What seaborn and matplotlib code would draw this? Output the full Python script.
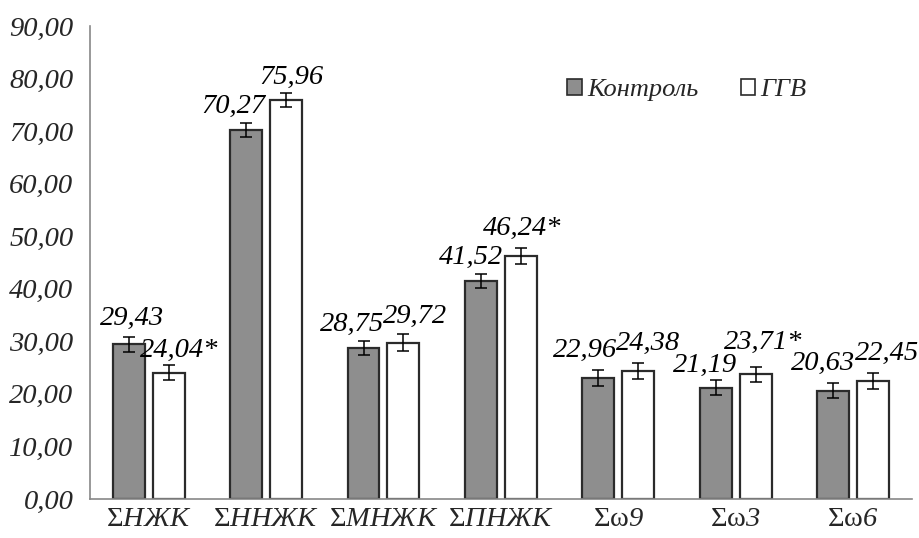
import matplotlib
matplotlib.use("Agg")
import matplotlib.pyplot as plt
from matplotlib.patches import Patch
import seaborn as sns
import pandas as pd

# Fatty-acid group sums, % of total
categories = [r"$\mathrm{Σ}$НЖК", r"$\mathrm{Σ}$ННЖК", r"$\mathrm{Σ}$МНЖК",
              r"$\mathrm{Σ}$ПНЖК", r"$\mathrm{Σω}$9", r"$\mathrm{Σω}$3",
              r"$\mathrm{Σω}$6"]
groups = ["Контроль", "ГГВ"]
control = [29.43, 70.27, 28.75, 41.52, 22.96, 21.19, 20.63]
ggv = [24.04, 75.96, 29.72, 46.24, 24.38, 23.71, 22.45]
control_err = [1.4, 1.3, 1.4, 1.3, 1.5, 1.4, 1.4]
ggv_err = [1.4, 1.4, 1.6, 1.5, 1.5, 1.5, 1.5]
ggv_signif = ["*", "", "", "*", "", "*", ""]
ytick_values = [0, 10, 20, 30, 40, 50, 60, 70, 80, 90]
ytick_labels = ["0,00", "10,00", "20,00", "30,00", "40,00", "50,00",
                "60,00", "70,00", "80,00", "90,00"]

# label offsets (pixels) from the top centre of each bar
control_offsets = [(3, -26), (-13, -23), (-11, -24), (-10, -23), (-13, -28), (-11, -22), (-10, -27)]
ggv_offsets = [(10, -22), (5, -22), (12, -26), (1, -28), (10, -27), (8, -32), (14, -28)]

df = pd.DataFrame({
    "cat": categories * 2,
    "group": [groups[0]] * len(categories) + [groups[1]] * len(categories),
    "value": control + ggv,
})

sns.set_style("white")
plt.rcParams["font.family"] = ["Liberation Serif", "DejaVu Serif"]
plt.rcParams["mathtext.fontset"] = "custom"
plt.rcParams["mathtext.rm"] = "Liberation Serif:style=normal"
plt.rcParams["mathtext.it"] = "Liberation Serif:style=italic"

fig = plt.figure(figsize=(9.19, 5.38), dpi=100)
ax = fig.add_axes([0.098, 0.0725, 0.894, 0.879])

palette = {"Контроль": "#8e8e8e", "ГГВ": "#ffffff"}
sns.barplot(data=df, x="cat", y="value", hue="group", hue_order=groups,
            order=categories, palette=palette, edgecolor="#2b2b2b",
            linewidth=1.6, width=0.68, gap=0.2, errorbar=None,
            legend=False, ax=ax)

bar_containers = list(ax.containers)[:2]
errs = [control_err, ggv_err]
offs = [control_offsets, ggv_offsets]
vals = [control, ggv]
for k, cont in enumerate(bar_containers):
    for i, bar in enumerate(cont.patches):
        x = bar.get_x() + bar.get_width() / 2
        h = vals[k][i]
        ax.errorbar(x, h, yerr=errs[k][i], fmt="none", ecolor="black",
                    elinewidth=1.1, capsize=4, capthick=1.1, zorder=5)
        txt = f"{h:.2f}".replace(".", ",")
        if k == 1:
            txt += ggv_signif[i]
        dx, dy = offs[k][i]
        ax.annotate(txt, (x, h), xytext=(dx, -dy), textcoords="offset pixels",
                    ha="center", va="center", fontsize=20.5, style="italic",
                    color="black")

ax.set_xlim(-0.5, len(categories) - 0.5)
ax.set_ylim(0, 90)
ax.set_yticks(ytick_values)
ax.set_yticklabels(ytick_labels, fontsize=20.5, style="italic")
ax.set_xticks(range(len(categories)))
ax.set_xticklabels(categories, fontsize=20.5, style="italic")
ax.set_xticks([i - 0.5 for i in range(len(categories) + 1)], minor=True)
ax.tick_params(axis="x", which="major", length=0, pad=6)
ax.tick_params(axis="x", which="minor", length=6, width=1, color="#888888",
               direction="out")
ax.tick_params(axis="y", length=6, width=1, color="#888888", direction="out",
               pad=6)
ax.set_xlabel("")
ax.set_ylabel("")
for side in ["top", "right"]:
    ax.spines[side].set_visible(False)
for side in ["left", "bottom"]:
    ax.spines[side].set_color("#888888")
    ax.spines[side].set_linewidth(1.2)

handles = [Patch(facecolor=palette[g], edgecolor="#2b2b2b", linewidth=1.2)
           for g in groups]
ax.legend(handles, groups, loc="center left", bbox_to_anchor=(0.552, 0.865),
          ncol=2, frameon=False, handlelength=0.55, handleheight=0.55,
          handletextpad=0.2, columnspacing=1.6,
          prop={"family": "Liberation Serif", "style": "italic", "size": 19})

fig.savefig("out.png", dpi=100, facecolor="white")
